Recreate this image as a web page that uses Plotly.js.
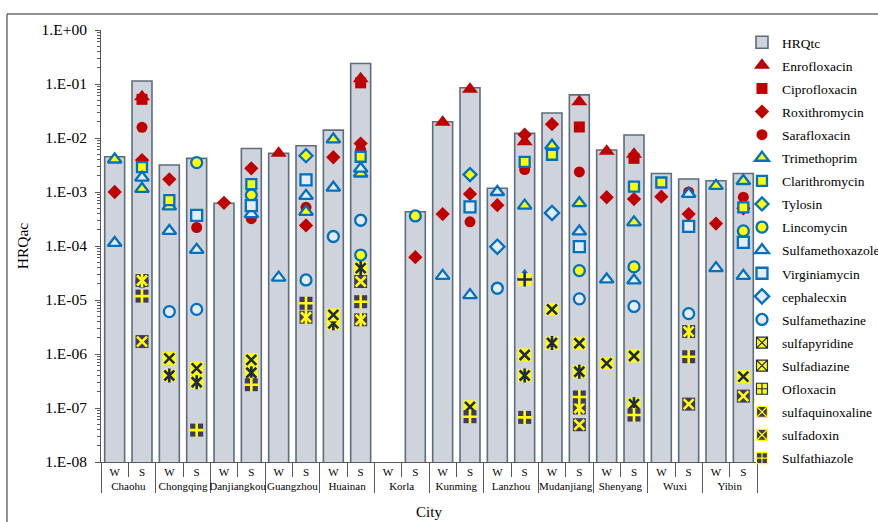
<!DOCTYPE html>
<html>
<head>
<meta charset="utf-8">
<script src="https://cdn.plot.ly/plotly-3.0.1.min.js"></script>
<style>
  html, body { margin: 0; padding: 0; background: #ffffff; overflow: hidden; }
  #chart { width: 1000px; height: 522px; }
</style>
</head>
<body>
<div id="chart"></div>
<script>
// Sampling sites and seasons (W = wet, S = dry); each site has a W and an S slot.
const cities = ['Chaohu', 'Chongqing', 'Danjiangkou', 'Guangzhou', 'Huainan', 'Korla',
                'Kunming', 'Lanzhou', 'Mudanjiang', 'Shenyang', 'Wuxi', 'Yibin'];
const seasons = ['W', 'S'];

const yTickVals = [1e-8, 1e-7, 1e-6, 1e-5, 1e-4, 1e-3, 1e-2, 1e-1, 1];
const yTickText = ['1.E-08', '1.E-07', '1.E-06', '1.E-05', '1.E-04', '1.E-03', '1.E-02', '1.E-01', '1.E+00'];

const _ = null;
// Slot order: Chaohu W, Chaohu S, Chongqing W, Chongqing S, ... Yibin W, Yibin S
const hrqtc          = [4.5e-3, 0.114, 3.16e-3, 4.2e-3, 6.2e-4, 6.4e-3, 5.2e-3, 7.2e-3, 1.4e-2, 0.24, _, 4.3e-4, 2.0e-2, 8.5e-2, 1.17e-3, 1.22e-2, 2.9e-2, 6.3e-2, 6.0e-3, 1.14e-2, 2.2e-3, 1.74e-3, 1.62e-3, 2.2e-3];
const enrofloxacin   = [_, 5.8e-2, _, _, _, _, 5.2e-3, _, _, 0.125, _, _, 1.95e-2, 8.0e-2, _, 8.5e-3, _, 4.7e-2, 5.7e-3, 5.0e-3, _, _, _, _];
const ciprofloxacin  = [_, 5.2e-2, _, _, _, _, _, _, _, 0.105, _, _, _, _, _, _, _, 1.6e-2, _, 4.2e-3, _, _, _, _];
const roxithromycin  = [1.0e-3, 3.9e-3, 1.72e-3, _, 6.3e-4, 2.74e-3, _, 2.4e-4, 4.4e-3, 7.9e-3, _, 6.2e-5, 3.9e-4, 9.2e-4, 5.7e-4, 1.15e-2, 1.8e-2, _, 8.0e-4, 7.4e-4, 8.2e-4, 3.9e-4, 2.6e-4, 5.0e-4];
const sarafloxacin   = [_, 1.58e-2, _, 2.2e-4, _, 3.2e-4, _, 5.2e-4, _, 6.0e-3, _, _, _, 2.8e-4, _, 2.6e-3, _, 2.35e-3, _, _, _, 1.0e-3, _, 8.0e-4];
const trimethoprim   = [4.0e-3, 1.14e-3, 5.4e-4, _, _, _, _, 4.3e-4, 9.4e-3, 2.2e-3, _, _, _, _, _, 5.6e-4, 7.2e-3, 6.2e-4, _, 2.75e-4, _, _, 1.3e-3, 1.6e-3];
const clarithromycin = [_, 2.9e-3, 7.1e-4, _, _, 1.4e-3, _, _, _, 4.5e-3, _, _, _, _, _, 3.6e-3, 4.9e-3, _, _, 1.26e-3, 1.5e-3, _, _, 5.2e-4];
const tylosin        = [_, _, _, _, _, _, _, 4.7e-3, _, _, _, _, _, 2.1e-3, _, _, _, _, _, _, _, _, _, _];
const lincomycin     = [_, _, _, 3.5e-3, _, 8.8e-4, _, _, _, 6.8e-5, _, 3.6e-4, _, _, _, _, _, 3.5e-5, _, 4.1e-5, _, _, _, 1.9e-4];
const sulfamethoxazole = [1.14e-4, 1.85e-3, 1.9e-4, 8.5e-5, _, 3.9e-4, 2.6e-5, 8.5e-4, 1.2e-3, 2.7e-3, _, _, 2.8e-5, 1.23e-5, 1.0e-3, 2.7e-5, _, 1.86e-4, 2.4e-5, 2.3e-5, _, 9.2e-4, 3.9e-5, 2.8e-5];
const virginiamycin  = [_, _, _, 3.7e-4, _, 5.6e-4, _, 1.67e-3, _, _, _, _, _, 5.3e-4, _, _, _, 9.7e-5, _, _, _, 2.3e-4, _, 1.17e-4];
const cephalecxin    = [_, _, _, _, _, _, _, _, _, _, _, _, _, _, 9.7e-5, _, 4.1e-4, _, _, _, _, _, _, _];
const sulfamethazine = [_, 2.2e-5, 6.1e-6, 6.7e-6, _, _, _, 2.35e-5, 1.5e-4, 3.0e-4, _, _, _, _, 1.65e-5, _, _, 1.05e-5, _, 7.6e-6, _, 5.6e-6, _, _];
const sulfapyridine  = [_, _, 4.0e-7, 3.0e-7, _, 4.5e-7, _, _, 3.7e-6, 3.9e-5, _, _, _, _, _, 4.0e-7, 1.6e-6, 4.7e-7, _, 1.18e-7, _, _, _, _];
const sulfadiazine   = [_, _, 8.3e-7, 5.4e-7, _, 7.8e-7, _, _, 5.3e-6, _, _, _, _, 1.05e-7, _, 9.6e-7, 6.7e-6, 1.58e-6, 6.7e-7, 9.2e-7, _, _, _, 3.8e-7];
const ofloxacin      = [_, _, _, _, _, _, _, _, _, _, _, _, _, _, _, 2.4e-5, _, _, _, _, _, _, _, _];
const sulfaquinoxaline = [_, 2.3e-5, _, _, _, _, _, 4.8e-6, _, 4.3e-6, _, _, _, _, _, _, _, 1.0e-7, _, _, _, 2.6e-6, _, _];
const sulfadoxin     = [_, 1.7e-6, _, _, _, _, _, _, _, 2.2e-5, _, _, _, _, _, _, _, 4.9e-8, _, _, _, 1.18e-7, _, 1.66e-7];
const sulfathiazole  = [_, 1.18e-5, _, 3.9e-8, _, 2.7e-7, _, 8.7e-6, _, 9.3e-6, _, _, _, 6.9e-8, _, 6.7e-8, _, 1.6e-7, _, 7.4e-8, _, 8.9e-7, _, _];

// Two-level category axis: outer = city, inner = season
const catCity = [], catSeason = [];
cities.forEach(c => seasons.forEach(s => { catCity.push(c); catSeason.push(s); }));
const xCats = [catCity, catSeason];

const RED = '#C00000', BLUE = '#0070C0', YELLOW = '#FFFF00', PALE = '#E4EBF4';
const NAVY = '#1E2A4C', PURPLE = '#413A60';
const FONT = 'Liberation Serif, Times New Roman, serif';

function pts(name, y, marker) {
  return { type: 'scatter', mode: 'markers', name: name, legendgroup: name, x: xCats, y: y,
           marker: marker, cliponaxis: false, hoverinfo: 'skip' };
}
function solid(name, y, symbol, size) {
  return pts(name, y, { symbol: symbol, size: size, color: RED, line: { width: 0 } });
}
function ringed(name, y, symbol, size, fill) {
  return pts(name, y, { symbol: symbol, size: size, color: fill, line: { color: BLUE, width: 2.3 } });
}
// Boxed markers: a filled square with a line glyph drawn over it
function boxed(name, y, bg, fg, mark) {
  const out = [];
  const bgTrace = pts(name, y, { symbol: 'square', size: 13, color: bg, line: { width: 0 } });
  bgTrace.showlegend = false;
  out.push(bgTrace);
  const glyphs = mark === 'star' ? ['x-thin-open', 'line-ns-open']
               : mark === 'x' ? ['x-thin-open'] : ['cross-thin-open'];
  glyphs.forEach(g => {
    const t = pts(name, y, { symbol: g, size: 10, color: fg, line: { color: fg, width: 2.6 } });
    t.showlegend = false;
    out.push(t);
  });
  // legend entry
  out.push({ type: 'scatter', mode: 'markers', name: name, legendgroup: name,
             x: [[cities[0]], [seasons[0]]], y: [null],
             showlegend: true, hoverinfo: 'skip',
             marker: { symbol: mark === 'plus' ? 'square-cross' : 'square-x', size: 11,
                       color: bg, line: { color: fg, width: 1.2 } } });
  return out;
}

const traces = [
  { type: 'bar', name: 'HRQtc', legendgroup: 'HRQtc', x: xCats, y: hrqtc, hoverinfo: 'skip',
    marker: { color: '#CFD4DC', line: { color: '#5E6C7E', width: 1.6 } } },
  solid('Enrofloxacin', enrofloxacin, 'triangle-up', 14),
  solid('Ciprofloxacin', ciprofloxacin, 'square', 11),
  solid('Roxithromycin', roxithromycin, 'diamond', 11),
  solid('Sarafloxacin', sarafloxacin, 'circle', 11),
  ringed('Trimethoprim', trimethoprim, 'triangle-up', 12, YELLOW),
  ringed('Clarithromycin', clarithromycin, 'square', 10, YELLOW),
  ringed('Tylosin', tylosin, 'diamond', 10, YELLOW),
  ringed('Lincomycin', lincomycin, 'circle', 11, YELLOW),
  ringed('Sulfamethoxazole', sulfamethoxazole, 'triangle-up', 12, PALE),
  ringed('Virginiamycin', virginiamycin, 'square', 11, PALE),
  ringed('cephalecxin', cephalecxin, 'diamond', 11, PALE),
  ringed('Sulfamethazine', sulfamethazine, 'circle', 11, PALE),
  ...boxed('sulfapyridine', sulfapyridine, YELLOW, NAVY, 'star'),
  ...boxed('Sulfadiazine', sulfadiazine, YELLOW, NAVY, 'x'),
  ...boxed('Ofloxacin', ofloxacin, YELLOW, NAVY, 'plus'),
  ...boxed('sulfaquinoxaline', sulfaquinoxaline, PURPLE, YELLOW, 'star'),
  ...boxed('sulfadoxin', sulfadoxin, PURPLE, YELLOW, 'x'),
  ...boxed('Sulfathiazole', sulfathiazole, PURPLE, YELLOW, 'plus')
];

const AXIS = '#595959';
const layout = {
  width: 1000, height: 522, autosize: false,
  margin: { l: 101, r: 243, t: 30, b: 60 },
  paper_bgcolor: '#ffffff', plot_bgcolor: '#ffffff',
  font: { family: FONT, color: '#000000' },
  bargap: 0.27,
  showlegend: true,
  xaxis: {
    type: 'multicategory', range: [-0.5, 23.5],
    showline: true, linecolor: AXIS, linewidth: 1,
    ticks: 'outside', tickson: 'boundaries', ticklen: 14, tickcolor: AXIS,
    tickangle: 0,
    showdividers: true, dividercolor: AXIS, dividerwidth: 1,
    showgrid: false, zeroline: false,
    tickfont: { family: FONT, size: 11, color: '#000' },
    title: { text: 'City', font: { family: FONT, size: 15, color: '#000' }, standoff: 15 }
  },
  yaxis: {
    type: 'log', range: [-8, 0],
    tickmode: 'array', tickvals: yTickVals, ticktext: yTickText,
    ticks: 'outside', ticklen: 5, tickcolor: AXIS, ticklabelstandoff: 5,
    minor: { ticks: 'outside', ticklen: 3, tickcolor: AXIS, dtick: 'D1', showgrid: false },
    showline: true, linecolor: AXIS, linewidth: 1,
    showgrid: false, zeroline: false,
    tickfont: { family: FONT, size: 15.5, color: '#000' },
    title: { text: 'HRQac', font: { family: FONT, size: 15.5, color: '#000' }, standoff: 9 }
  },
  legend: {
    x: 0.9771, xanchor: 'left', y: 1.007, yanchor: 'top',
    font: { family: FONT, size: 13.5, color: '#000' },
    bgcolor: 'rgba(0,0,0,0)', borderwidth: 0,
    traceorder: 'grouped', tracegroupgap: 2.55, itemsizing: 'trace',
    maxheight: 520
  },
  shapes: [
    { type: 'rect', xref: 'paper', yref: 'paper',
      x0: -0.1433, x1: 1.19, y0: -0.15, y1: 1.037,
      line: { color: '#262626', width: 1 }, fillcolor: 'rgba(0,0,0,0)', layer: 'below' }
  ]
};

Plotly.newPlot('chart', traces, layout, { staticPlot: true, displayModeBar: false });
</script>
</body>
</html>
